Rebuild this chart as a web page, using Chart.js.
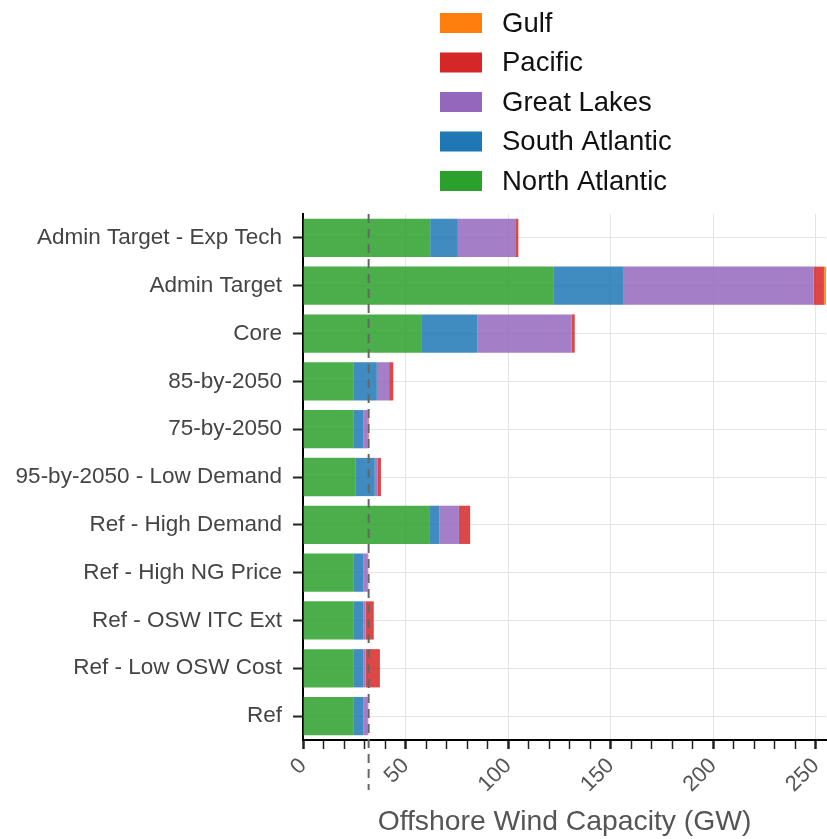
<!DOCTYPE html>
<html>
<head>
<meta charset="utf-8">
<script src="https://cdn.jsdelivr.net/npm/chart.js@4.4.1/dist/chart.umd.min.js"></script>
<style>
  body { margin: 0; background: #fff; }
  #wrap { width: 827px; height: 839px; position: relative; }
</style>
</head>
<body>
<div id="wrap"><canvas id="chart_content"></canvas></div>
<script>
var scenarios = [
  "Admin Target - Exp Tech",
  "Admin Target",
  "Core",
  "85-by-2050",
  "75-by-2050",
  "95-by-2050 - Low Demand",
  "Ref - High Demand",
  "Ref - High NG Price",
  "Ref - OSW ITC Ext",
  "Ref - Low OSW Cost",
  "Ref"
];

// GW by region
var northAtlantic = [62, 122, 58, 24.5, 24.5, 25.5, 61.5, 24.5, 24.5, 24.5, 24.5];
var southAtlantic = [13.5, 34, 27, 11.5, 5, 9.5, 5, 5, 5, 5, 5];
var greatLakes    = [28, 93, 46, 6, 2, 1.5, 9.5, 2, 1, 1, 2];
var pacific       = [1.5, 5, 1.5, 2, 0.5, 1.5, 5.5, 0.3, 4, 7, 0.3];
var gulf          = [0, 1.5, 0, 0, 0, 0, 0, 0, 0, 0, 0];

var targetLine = 32;
var xMax = 255;

var regions = [
  { label: "North Atlantic", data: northAtlantic, color: "44,160,44" },
  { label: "South Atlantic", data: southAtlantic, color: "31,119,180" },
  { label: "Great Lakes", data: greatLakes, color: "148,103,189" },
  { label: "Pacific", data: pacific, color: "214,39,40" },
  { label: "Gulf", data: gulf, color: "255,127,14" }
];

var datasets = [];
for (var i = 0; i < regions.length; i++) {
  datasets.push({
    label: regions[i].label,
    data: regions[i].data,
    backgroundColor: "rgba(" + regions[i].color + ",0.85)",
    legendColor: "rgb(" + regions[i].color + ")",
    borderWidth: 0,
    barPercentage: 1,
    categoryPercentage: 0.8
  });
}

// vertical legend above the plot, last series first
var stackLegend = {
  id: "stackLegend",
  afterDraw: function (chart) {
    var ctx = chart.ctx;
    var sets = chart.data.datasets;
    ctx.save();
    ctx.font = "27.5px 'Liberation Sans', Arial, sans-serif";
    ctx.textBaseline = "middle";
    ctx.textAlign = "left";
    for (var j = 0; j < sets.length; j++) {
      var ds = sets[sets.length - 1 - j];
      var y = 23 + j * 39.5;
      ctx.fillStyle = ds.legendColor;
      ctx.fillRect(440, y - 10, 42, 20);
      ctx.fillStyle = "#111";
      ctx.fillText(ds.label, 502, y + 1);
    }
    ctx.restore();
  }
};

var targetMarker = {
  id: "targetMarker",
  afterDatasetsDraw: function (chart) {
    var ctx = chart.ctx;
    var x = chart.scales.x.getPixelForValue(targetLine);
    ctx.save();
    ctx.strokeStyle = "#666";
    ctx.lineWidth = 2;
    ctx.setLineDash([9, 6]);
    ctx.beginPath();
    ctx.moveTo(x, chart.chartArea.top);
    ctx.lineTo(x, 790);
    ctx.stroke();
    ctx.restore();
  }
};

var yFont = { family: "'Liberation Sans', Arial, sans-serif", size: 22.5 };
var xFont = { family: "'Liberation Sans', Arial, sans-serif", size: 22 };

var config = {
  type: "bar",
  data: { labels: scenarios, datasets: datasets },
  options: {
    indexAxis: "y",
    responsive: true,
    maintainAspectRatio: false,
    animation: false,
    layout: { padding: { top: 214, left: 0, right: 1, bottom: 0 } },
    plugins: {
      legend: { display: false },
      tooltip: { enabled: false }
    },
    scales: {
      x: {
        stacked: true,
        min: 0,
        max: xMax,
        afterFit: function (scale) {
          scale.height = 99;
          scale.paddingRight = 0;
          scale.paddingLeft = 0;
        },
        afterBuildTicks: function (scale) {
          scale.ticks = scale.ticks.filter(function (t) { return t.value % 10 === 0; });
        },
        border: { color: "#000", width: 2 },
        grid: {
          color: function (c) { return c.tick && c.tick.value % 50 === 0 ? "#e4e4e4" : "rgba(0,0,0,0)"; },
          tickColor: "#222",
          tickLength: 9,
          tickWidth: function (c) { return c.tick && c.tick.value % 50 === 0 ? 2.5 : 1.5; }
        },
        ticks: {
          stepSize: 10,
          includeBounds: false,
          autoSkip: false,
          minRotation: 45,
          maxRotation: 45,
          padding: 4,
          color: "#555",
          font: xFont,
          callback: function (v) { return v % 50 === 0 ? v : ""; }
        },
        title: {
          display: true,
          text: "Offshore Wind Capacity (GW)",
          color: "#555",
          font: { family: "'Liberation Sans', Arial, sans-serif", size: 28.3 },
          padding: { top: 0, bottom: 0 }
        }
      },
      y: {
        stacked: true,
        afterFit: function (scale) { scale.width = 303; },
        border: { color: "#000", width: 2 },
        grid: {
          offset: false,
          color: "#e4e4e4",
          tickColor: "#222",
          tickLength: 10,
          tickWidth: 2
        },
        ticks: {
          padding: 11,
          color: "#444",
          font: yFont
        }
      }
    }
  },
  plugins: [stackLegend, targetMarker]
};

var chart = new Chart(document.getElementById("chart_content"), config);
</script>
</body>
</html>
